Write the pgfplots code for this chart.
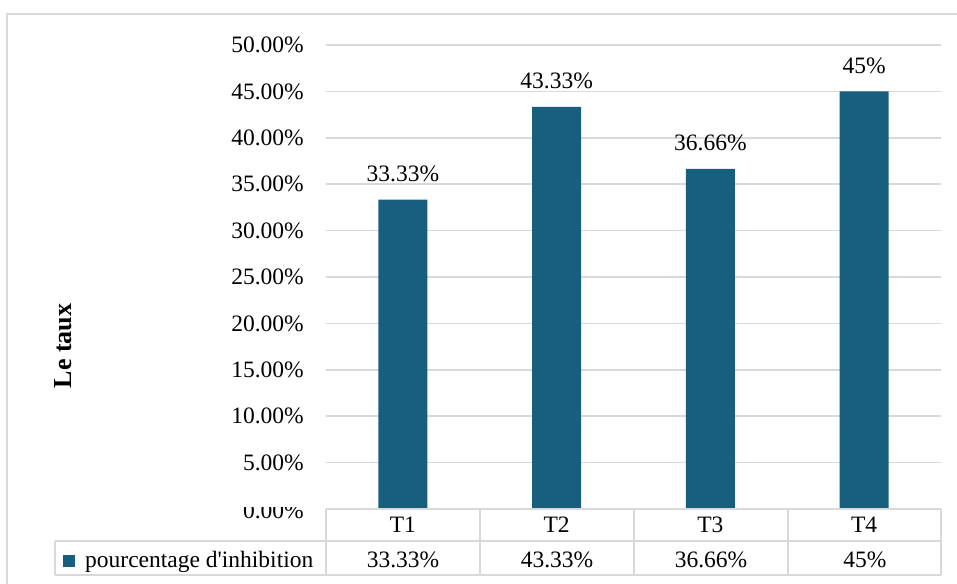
\documentclass[border=0pt]{standalone}
\usepackage{pgfplots}
\pgfplotsset{compat=1.18}
\usepackage{fontspec}
\setmainfont{Liberation Serif}
\definecolor{barblue}{RGB}{24,95,126}
\definecolor{gridgray}{RGB}{217,217,217}
\begin{document}
\fontsize{23.5bp}{28bp}\selectfont
\begin{tikzpicture}[x=1bp,y=1bp]
\useasboundingbox (0,0) rectangle (957,584);
% chart frame
\draw[gridgray, line width=1.5bp] (7,-3) -- (7,570) -- (962,570);
\begin{axis}[
  at={(326bp,75bp)}, anchor=south west,
  scale only axis, width=615bp, height=464bp,
  xmin=0.5, xmax=4.5, ymin=0, ymax=50,
  axis line style={draw=none},
  major tick length=0pt,
  xtick={1,2,3,4}, xticklabels={T1,T2,T3,T4},
  xticklabel style={anchor=base, yshift=-24bp, inner sep=0pt},
  ytick={5,10,...,50},
  extra y ticks={0},
  extra y tick style={grid=none, yticklabel style={yshift=-2bp}},
  /pgf/number format/assume math mode=true,
  yticklabel={\pgfmathprintnumber[fixed,fixed zerofill,precision=2]{\tick}\%},
  yticklabel style={anchor=east, inner sep=0pt, xshift=-22bp},
  ymajorgrids, grid style={gridgray, line width=1.5bp},
  ybar, bar width=49bp,
  clip=false,
]
\addplot[fill=barblue, draw=none,
  nodes near coords, point meta=explicit symbolic,
  nodes near coords style={anchor=base, yshift=18bp, inner sep=0pt, text=black}]
  table[meta=label] {
x y label
1 33.33 33.33\%
2 43.33 43.33\%
3 36.66 36.66\%
4 45 45\%
};
\end{axis}
% the table edge hides the top of the 0.00% label
\fill[white] (215,77) rectangle (318,92);
% data table
\begin{scope}[gridgray, line width=1.5bp]
\draw (326,75) -- (941,75);
\draw (55,43) -- (941,43);
\draw (55,9) -- (941,9);
\draw (55,43) -- (55,9);
\foreach \xx in {326,480,634,788,941} \draw (\xx,75) -- (\xx,9);
\end{scope}
\fill[barblue] (63,17) rectangle (75,29);
\node[anchor=base west, inner sep=0pt] at (85,16) {pourcentage d\textquotesingle inhibition};
\node[anchor=base, inner sep=0pt] at (403,16) {33.33\%};
\node[anchor=base, inner sep=0pt] at (557,16) {43.33\%};
\node[anchor=base, inner sep=0pt] at (711,16) {36.66\%};
\node[anchor=base, inner sep=0pt] at (865,16) {45\%};
% axis title
\node[rotate=90, font=\fontsize{26bp}{30bp}\selectfont\bfseries] at (63,238) {Le taux};
\end{tikzpicture}
\end{document}
